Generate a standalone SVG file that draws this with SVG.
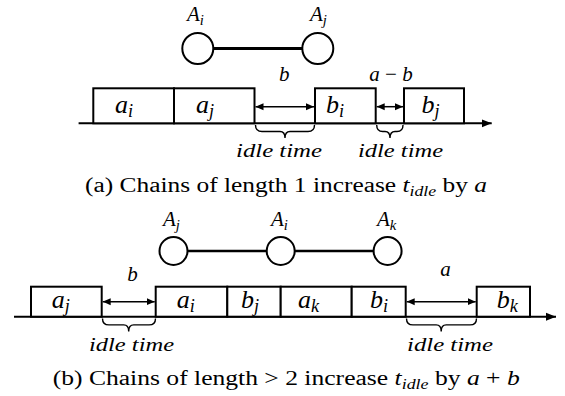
<svg xmlns="http://www.w3.org/2000/svg" width="565" height="396" viewBox="0 0 565 396">
<defs>
<marker id="ah" viewBox="0 0 8 8" refX="8" refY="4" markerWidth="8" markerHeight="8" markerUnits="userSpaceOnUse" orient="auto-start-reverse"><path d="M0,0.5 L8,4 L0,7.5 Z" fill="#000"/></marker>
<marker id="ax" viewBox="0 0 10 10" refX="10" refY="5" markerWidth="10" markerHeight="10" markerUnits="userSpaceOnUse" orient="auto"><path d="M0,1 L10,5 L0,9 Z" fill="#000"/></marker>
</defs>
<style>
.box{fill:#fff;stroke:#000;stroke-width:2}
.node{fill:#fff;stroke:#000;stroke-width:2}
.edge{stroke:#000;stroke-width:3;fill:none}
.axis{stroke:#000;stroke-width:2;fill:none;marker-end:url(#ax)}
.dbl{stroke:#000;stroke-width:1.5;fill:none;marker-start:url(#ah);marker-end:url(#ah)}
.brace{stroke:#000;stroke-width:1.4;fill:none}
text{font-family:"Liberation Serif","Times New Roman",serif;fill:#000}
.m{font-style:italic}
.nl{font-size:21px}
.bl{font-size:26px}
.gl{font-size:21px}
.idle{font-size:19px;font-style:italic}
.cap{font-size:20px}
.s{font-size:0.7em}
</style>
<!-- (a) -->
<g id="nodeA_Ai"><circle class="node" cx="197.8" cy="48.5" r="15.5"/><text class="m nl" x="187" y="21">A<tspan class="s" dy="4">i</tspan></text></g>
<g id="nodeA_Aj"><circle class="node" cx="317.8" cy="48.5" r="15.5"/><text class="m nl" x="310" y="21">A<tspan class="s" dy="4">j</tspan></text></g>
<g id="connectorsA">
<line class="edge" x1="213" y1="48.5" x2="302.5" y2="48.5"/>
<line class="axis" x1="78.6" y1="123.3" x2="491.7" y2="123.3"/>
<line class="dbl" x1="255.5" y1="106.7" x2="314" y2="106.7"/>
<line class="dbl" x1="376.7" y1="106.7" x2="403" y2="106.7"/>
<path class="brace" d="M255.5,125 q0,6.5 6.5,6.5 H280 q5,0 5,6.5 q0,-6.5 5,-6.5 H308 q6.5,0 6.5,-6.5"/>
<path class="brace" d="M376.7,125 q0,6.5 6,6.5 H385 q5,0 5,6.5 q0,-6.5 5,-6.5 H397 q6,0 6,-6.5"/>
</g>
<g id="ai_a"><rect class="box" x="93.3" y="88.3" width="80.7" height="35"/><text class="m bl" x="115" y="113.3">a<tspan class="s" dy="4">i</tspan></text></g>
<g id="aj_a"><rect class="box" x="174" y="88.3" width="80.5" height="35"/><text class="m bl" x="196" y="113.3">a<tspan class="s" dy="4">j</tspan></text></g>
<g id="bi_a"><rect class="box" x="315" y="88.3" width="60.7" height="35"/><text class="m bl" x="326" y="113.3">b<tspan class="s" dy="4">i</tspan></text></g>
<g id="bj_a"><rect class="box" x="404" y="88.3" width="60" height="35"/><text class="m bl" x="421.6" y="113.3">b<tspan class="s" dy="4">j</tspan></text></g>
<text class="m gl" x="284.3" y="81" text-anchor="middle">b</text>
<text class="gl" x="391" y="81" text-anchor="middle"><tspan class="m">a</tspan> − <tspan class="m">b</tspan></text>
<text class="idle" x="236" y="157.3" textLength="86" lengthAdjust="spacingAndGlyphs">idle time</text>
<text class="idle" x="358" y="157.3" textLength="85" lengthAdjust="spacingAndGlyphs">idle time</text>
<text class="cap" x="85" y="191.7" textLength="402" lengthAdjust="spacingAndGlyphs">(a) Chains of length 1 increase <tspan class="m">t</tspan><tspan class="m s" dy="4">idle</tspan><tspan dy="-4"> by </tspan><tspan class="m">a</tspan></text>

<!-- (b) -->
<g id="nodeB_Aj"><circle class="node" cx="173.5" cy="251" r="14"/><text class="m nl" x="163" y="225.5">A<tspan class="s" dy="4">j</tspan></text></g>
<g id="nodeB_Ai"><circle class="node" cx="280.7" cy="251" r="14"/><text class="m nl" x="271" y="225.5">A<tspan class="s" dy="4">i</tspan></text></g>
<g id="nodeB_Ak"><circle class="node" cx="387.6" cy="251" r="14"/><text class="m nl" x="377" y="225.5">A<tspan class="s" dy="4">k</tspan></text></g>
<g id="connectorsB">
<line class="edge" style="stroke-width:2.5" x1="187.5" y1="251" x2="266.7" y2="251"/>
<line class="edge" style="stroke-width:2.5" x1="294.7" y1="251" x2="373.6" y2="251"/>
<line class="axis" x1="14" y1="316.7" x2="556" y2="316.7"/>
<line class="dbl" x1="102.7" y1="301.7" x2="154.7" y2="301.7"/>
<line class="dbl" x1="406.7" y1="301.7" x2="475.7" y2="301.7"/>
<path class="brace" d="M102.5,318.4 q0,6.5 6.5,6.5 H123.7 q5,0 5,6.5 q0,-6.5 5,-6.5 H149 q6.5,0 6.5,-6.5"/>
<path class="brace" d="M406.5,318.4 q0,6.5 6.5,6.5 H436.2 q5,0 5,6.5 q0,-6.5 5,-6.5 H470 q6.5,0 6.5,-6.5"/>
</g>
<g id="aj_b"><rect class="box" x="31" y="286.7" width="70.7" height="30"/><text class="m bl" x="51.7" y="308.3">a<tspan class="s" dy="4">j</tspan></text></g>
<g id="ai_b"><rect class="box" x="155.7" y="286.7" width="71.6" height="30"/><text class="m bl" x="176.7" y="308.3">a<tspan class="s" dy="4">i</tspan></text></g>
<g id="bj_b"><rect class="box" x="227.3" y="286.7" width="53.4" height="30"/><text class="m bl" x="241" y="308.3">b<tspan class="s" dy="4">j</tspan></text></g>
<g id="ak_b"><rect class="box" x="280.7" y="286.7" width="71" height="30"/><text class="m bl" x="298" y="308.3">a<tspan class="s" dy="4">k</tspan></text></g>
<g id="bi_b"><rect class="box" x="351.7" y="286.7" width="54" height="30"/><text class="m bl" x="370" y="308.3">b<tspan class="s" dy="4">i</tspan></text></g>
<g id="bk_b"><rect class="box" x="476.7" y="286.7" width="53.3" height="30"/><text class="m bl" x="496.7" y="308.3">b<tspan class="s" dy="4">k</tspan></text></g>
<text class="m gl" x="132.5" y="280.7" text-anchor="middle">b</text>
<text class="m gl" x="445.5" y="276" text-anchor="middle">a</text>
<text class="idle" x="89" y="350.5" textLength="85" lengthAdjust="spacingAndGlyphs">idle time</text>
<text class="idle" x="407" y="350.5" textLength="86" lengthAdjust="spacingAndGlyphs">idle time</text>
<text class="cap" x="52.7" y="385" textLength="467" lengthAdjust="spacingAndGlyphs">(b) Chains of length &gt; 2 increase <tspan class="m">t</tspan><tspan class="m s" dy="4">idle</tspan><tspan dy="-4"> by </tspan><tspan class="m">a</tspan> + <tspan class="m">b</tspan></text>
</svg>
